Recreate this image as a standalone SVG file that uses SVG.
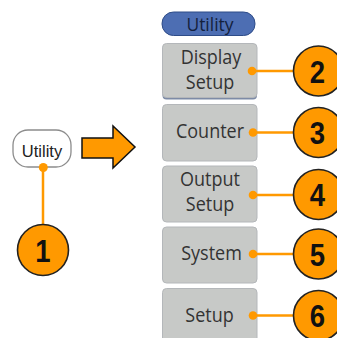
<svg xmlns="http://www.w3.org/2000/svg" width="337" height="338" viewBox="0 0 337 338">
<style>
.btn{fill:#C7C9C7;stroke:#B4B7BA;stroke-width:1}
.btxt{font-family:"Open Sans","Noto Sans",sans-serif;font-size:20px;fill:#333333;text-anchor:middle}
.num{fill:#FF9900;stroke:#222222;stroke-width:1.6}
.ntxt{font-family:"Liberation Sans",Arial,sans-serif;font-weight:bold;font-size:32px;fill:#111111;text-anchor:middle}
.conn{stroke:#FF9900;stroke-width:2.5;fill:none}
.dot{fill:#FF9900}
</style>
<rect width="337" height="338" fill="#FFFFFF"/>
<g id="utility-button">
<rect x="13" y="130" width="58" height="37" rx="15" ry="15" fill="#FFFFFF" stroke="#8C8C8C" stroke-width="1.3"/>
<text x="42" y="156.5" font-family="Liberation Sans, Arial, sans-serif" font-size="16.5" fill="#222222" text-anchor="middle">Utility</text>
</g>
<g id="arrow">
<polygon points="82,138 113,138 113,126 135,147 113,168 113,158 82,158" fill="#FF9900" stroke="#111111" stroke-width="1.5" stroke-linejoin="miter"/>
</g>
<g id="menu-header">
<rect x="162" y="12" width="93" height="23.5" rx="11.5" ry="11.5" fill="#4D6EB3" stroke="#2E4C88" stroke-width="1"/>
<text transform="translate(210,31) scale(0.92,1)" font-family="Open Sans, Noto Sans, sans-serif" font-size="19" fill="#14213D" text-anchor="middle">Utility</text>
</g>
<g id="btn-display-setup">
<rect x="162.5" y="44.5" width="94.5" height="55" rx="4" fill="#7D8BA6"/>
<rect class="btn" x="162.5" y="43.5" width="94.5" height="54" rx="4"/>
<text class="btxt" transform="translate(211,63.5) scale(0.9,1)">Display</text>
<text class="btxt" transform="translate(210,89) scale(0.9,1)">Setup</text>
</g>
<g id="btn-counter">
<rect class="btn" x="162.5" y="104.5" width="94.5" height="56.5" rx="4"/>
<text class="btxt" transform="translate(210,137.5) scale(0.9,1)">Counter</text>
</g>
<g id="btn-output-setup">
<rect class="btn" x="162.5" y="166" width="94.5" height="56" rx="4"/>
<text class="btxt" transform="translate(210,185.5) scale(0.9,1)">Output</text>
<text class="btxt" transform="translate(210,211) scale(0.9,1)">Setup</text>
</g>
<g id="btn-system">
<rect class="btn" x="162.5" y="227" width="94.5" height="56" rx="4"/>
<text class="btxt" transform="translate(211.5,259.5) scale(0.9,1)">System</text>
</g>
<g id="btn-setup">
<rect class="btn" x="162.5" y="288.5" width="94.5" height="56" rx="4"/>
<text class="btxt" transform="translate(209.5,321.5) scale(0.9,1)">Setup</text>
</g>
<g id="connectors">
<line class="conn" x1="43" y1="168" x2="43" y2="226" stroke-width="2"/>
<line class="conn" x1="252" y1="71" x2="294" y2="71"/>
<line class="conn" x1="253" y1="132.5" x2="294" y2="132.5"/>
<line class="conn" x1="253" y1="195" x2="294" y2="195"/>
<line class="conn" x1="253" y1="254" x2="294" y2="254"/>
<line class="conn" x1="253" y1="315.5" x2="294" y2="315.5"/>
<circle class="dot" cx="43.3" cy="167.5" r="4.5"/>
<circle class="dot" cx="252" cy="71" r="4.3"/>
<circle class="dot" cx="253" cy="132.5" r="4.3"/>
<circle class="dot" cx="253" cy="195" r="4.3"/>
<circle class="dot" cx="253" cy="254" r="4.3"/>
<circle class="dot" cx="253" cy="315.5" r="4.3"/>
</g>
<g id="callout-1">
<circle class="num" cx="43" cy="250" r="25.5"/>
<text class="ntxt" transform="translate(43,261.5) scale(0.86,1)">1</text>
</g>
<g id="callout-2">
<circle class="num" cx="318.5" cy="71" r="25"/>
<text class="ntxt" transform="translate(317.5,82.5) scale(0.86,1)">2</text>
</g>
<g id="callout-3">
<circle class="num" cx="318.5" cy="132.5" r="25"/>
<text class="ntxt" transform="translate(317.5,144) scale(0.86,1)">3</text>
</g>
<g id="callout-4">
<circle class="num" cx="318.5" cy="194.5" r="25"/>
<text class="ntxt" transform="translate(317.5,206) scale(0.86,1)">4</text>
</g>
<g id="callout-5">
<circle class="num" cx="318.5" cy="254" r="25"/>
<text class="ntxt" transform="translate(317.5,265.5) scale(0.86,1)">5</text>
</g>
<g id="callout-6">
<circle class="num" cx="318.5" cy="315.5" r="25"/>
<text class="ntxt" transform="translate(317.5,327) scale(0.86,1)">6</text>
</g>
</svg>
